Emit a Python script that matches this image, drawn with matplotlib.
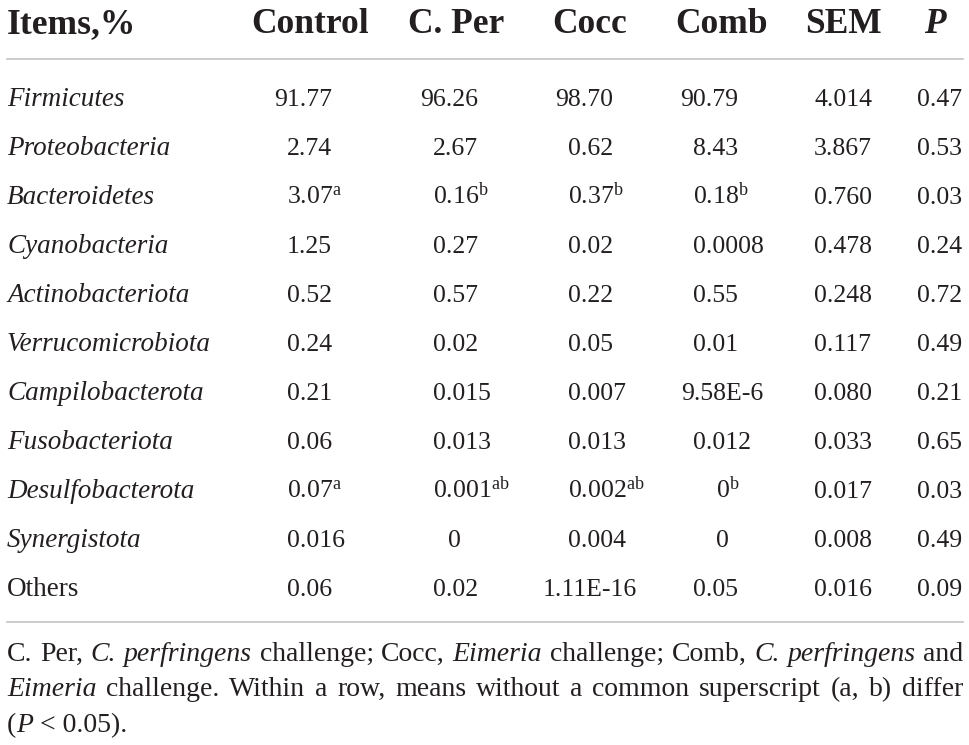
import matplotlib
matplotlib.use('Agg')
import matplotlib.pyplot as plt

plt.rcParams['font.family'] = 'Liberation Serif'
plt.rcParams['mathtext.fontset'] = 'custom'
plt.rcParams['mathtext.rm'] = 'Liberation Serif'
plt.rcParams['mathtext.it'] = 'Liberation Serif:italic'

# Dane tabeli
kolumny = ['Control', 'C. Per', 'Cocc', 'Comb', 'SEM']
taksony = ['Firmicutes', 'Proteobacteria', 'Bacteroidetes', 'Cyanobacteria',
           'Actinobacteriota', 'Verrucomicrobiota', 'Campilobacterota',
           'Fusobacteriota', 'Desulfobacterota', 'Synergistota', 'Others']
control = ['91.77', '2.74', '3.07', '1.25', '0.52', '0.24', '0.21', '0.06', '0.07', '0.016', '0.06']
c_per = ['96.26', '2.67', '0.16', '0.27', '0.57', '0.02', '0.015', '0.013', '0.001', '0', '0.02']
cocc = ['98.70', '0.62', '0.37', '0.02', '0.22', '0.05', '0.007', '0.013', '0.002', '0.004', '1.11E-16']
comb = ['90.79', '8.43', '0.18', '0.0008', '0.55', '0.01', '9.58E-6', '0.012', '0', '0', '0.05']
sem = ['4.014', '3.867', '0.760', '0.478', '0.248', '0.117', '0.080', '0.033', '0.017', '0.008', '0.016']
p_val = ['0.47', '0.53', '0.03', '0.24', '0.72', '0.49', '0.21', '0.65', '0.03', '0.49', '0.09']
# indeksy literowe (a, b)
sup_control = ['', '', 'a', '', '', '', '', '', 'a', '', '']
sup_c_per = ['', '', 'b', '', '', '', '', '', 'ab', '', '']
sup_cocc = ['', '', 'b', '', '', '', '', '', 'ab', '', '']
sup_comb = ['', '', 'b', '', '', '', '', '', 'b', '', '']

W, H = 969, 745
fig = plt.figure(figsize=(W / 100, H / 100), dpi=100)
ax = fig.add_axes([0, 0, 1, 1])
ax.set_xlim(0, W)
ax.set_ylim(H, 0)
ax.axis('off')
renderer = fig.canvas.get_renderer()

kolor = '#231f20'
fs = 18.5
fs_nazwy = 19.5
fs_nagl = 25.5

# Naglowek
ax.text(7, 33, 'Items,%', fontsize=fs_nagl, fontweight='bold', color=kolor, va='baseline')
srodki = [310, 456, 590, 722, 843]
for nazwa, x in zip(kolumny, srodki):
    ax.text(x, 33, nazwa, fontsize=fs_nagl, fontweight='bold', color=kolor, ha='center', va='baseline')
ax.text(935, 33, 'P', fontsize=fs_nagl, fontweight='bold', style='italic', color=kolor, ha='center', va='baseline')

ax.plot([7, 963], [59, 59], color='#c4c4c4', lw=1.2)
ax.plot([7, 963], [622, 622], color='#c4c4c4', lw=1.2)


def szerokosc(s):
    t = ax.text(0, 0, s, fontsize=fs)
    w = t.get_window_extent(renderer).width
    t.remove()
    return w


def komorka(x_kropki, x_srodek, y, s, sup):
    txt = s + (r'$^{\mathrm{%s}}$' % sup if sup else '')
    if '.' in s and 'E' not in s:
        x0 = x_kropki - szerokosc(s.split('.')[0])
    else:
        x0 = x_srodek - szerokosc(s) / 2
    ax.text(x0, y, txt, fontsize=fs, color=kolor, ha='left', va='baseline')


kropki = [300, 446, 581, 706, 827, 930]
srodki_d = [310, 454, 590, 722, 843, 937]
dane = [control, c_per, cocc, comb, sem, p_val]
indeksy = [sup_control, sup_c_per, sup_cocc, sup_comb, [''] * 11, [''] * 11]

for i, takson in enumerate(taksony):
    y = 106 + 49 * i
    ax.text(7, y, takson, fontsize=fs_nazwy, color=kolor, va='baseline',
            style='normal' if takson == 'Others' else 'italic')
    for j in range(6):
        komorka(kropki[j], srodki_d[j], y, dane[j][i], indeksy[j][i])

# Przypis - wyjustowany
linie = [
    [('C.', 0), ('Per,', 0), ('C.', 1), ('perfringens', 1), ('challenge;', 0), ('Cocc,', 0),
     ('Eimeria', 1), ('challenge;', 0), ('Comb,', 0), ('C.', 1), ('perfringens', 1), ('and', 0)],
    [('Eimeria', 1), ('challenge.', 0), ('Within', 0), ('a', 0), ('row,', 0), ('means', 0),
     ('without', 0), ('a', 0), ('common', 0), ('superscript', 0), ('(a,', 0), ('b)', 0), ('differ', 0)],
]
fs_p = 20
baseline = [661, 696]
for linia, yb in zip(linie, baseline):
    teksty = []
    for slowo, kursywa in linia:
        t = ax.text(0, yb, slowo, fontsize=fs_p, color=kolor, va='baseline',
                    style='italic' if kursywa else 'normal')
        teksty.append(t)
    szer = [t.get_window_extent(renderer).width for t in teksty]
    odstep = (963 - 7 - sum(szer)) / (len(szer) - 1)
    x = 7
    for t, w in zip(teksty, szer):
        t.set_x(x)
        x += w + odstep

x = 7
for slowo, kursywa in [('(', 0), ('P', 1), (' < 0.05).', 0)]:
    t = ax.text(x, 732, slowo, fontsize=fs_p, color=kolor, va='baseline',
                style='italic' if kursywa else 'normal')
    x += t.get_window_extent(renderer).width

plt.savefig('out.png', dpi=100)
plt.close()
